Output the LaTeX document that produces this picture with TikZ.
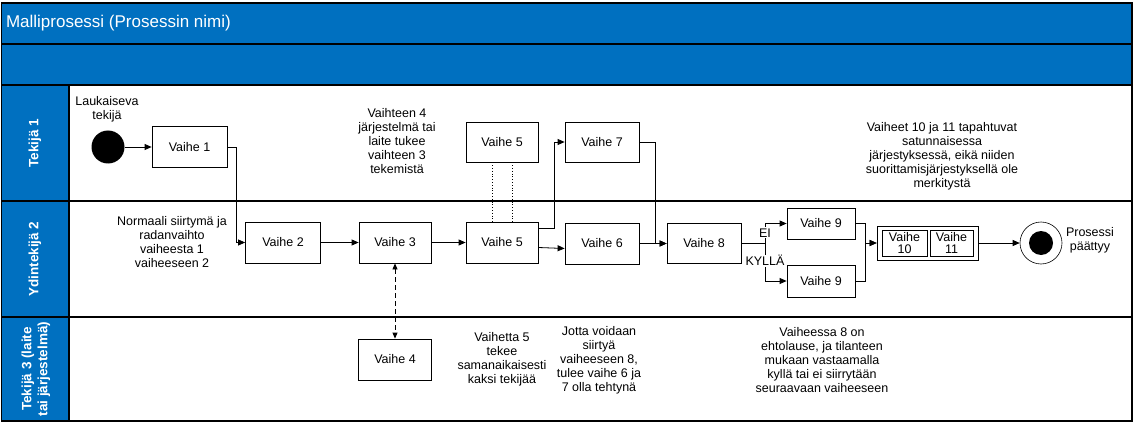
\documentclass[tikz,border=0pt]{standalone}
\usepackage{fontspec}
\setmainfont{Liberation Sans}
\usetikzlibrary{arrows.meta}
\definecolor{laneblue}{RGB}{0,112,192}

\begin{document}
\begin{tikzpicture}[x=1pt, y=-1pt,
        txt/.style={font=\fontsize{12.5}{14}\selectfont},
        vaihe/.style={txt, draw, line width=0.8pt, inner sep=0pt, minimum width=73, minimum height=41},
        small/.style={vaihe, minimum width=68, minimum height=31},
        note/.style={txt, align=center},
        lanelabel/.style={rotate=90, white, align=center, font=\bfseries\fontsize{13.5}{16}\selectfont},
        flow/.style={line width=0.8pt, -{Triangle[length=7pt, width=6pt]}},
        lab/.style={txt, fill=white, inner sep=1pt}]
    \useasboundingbox (0, 0) rectangle (1135, 425);
    %\draw[help lines, step=50] (0, 0) grid (1135, 425);
    % kaistat
    \fill[laneblue] (1.5, 3) rectangle (1132, 85);
    \fill[laneblue] (1.5, 85) rectangle (69, 421);
    \draw[line width=1.2pt] (1.5, 3) rectangle (1132, 421);
    \draw[line width=1.2pt] (1.5, 44) -- (1132, 44);
    \draw[line width=1.2pt] (1.5, 85) -- (1132, 85);
    \draw[line width=1.2pt] (1.5, 201) -- (1132, 201);
    \draw[line width=1.2pt] (1.5, 317) -- (1132, 317);
    \draw[line width=1.2pt] (69, 85) -- (69, 421);
    \node[anchor=west, white, font=\fontsize{17}{20}\selectfont] (title) at (2.5, 23) {Malliprosessi (Prosessin nimi)};
    \node[lanelabel] (lane1) at (35, 143) {Tekijä 1};
    \node[lanelabel] (lane2) at (35, 259) {Ydintekijä 2};
    \node[lanelabel] (lane3) at (36, 369) {Tekijä 3 (laite\\tai järjestelmä)};
    % vaiheet
    \node[circle, fill=black, minimum size=33, inner sep=0pt] (start) at (108, 147) {};
    \node[note] (startlab) at (107, 109) {Laukaiseva\\tekijä};
    \node[vaihe, minimum width=75] (v1) at (189.5, 147) {Vaihe 1};
    \node[vaihe, minimum width=75] (v2) at (283, 242.5) {Vaihe 2};
    \node[vaihe, minimum width=72] (v3) at (395, 242.5) {Vaihe 3};
    \node[vaihe] (v4) at (395, 359.5) {Vaihe 4};
    \node[vaihe, minimum width=72, minimum height=40] (v5a) at (502, 142) {Vaihe 5};
    \node[vaihe, minimum width=72] (v5b) at (502, 242.5) {Vaihe 5};
    \node[vaihe, minimum width=74, minimum height=40] (v7) at (602, 142) {Vaihe 7};
    \node[vaihe, minimum width=74] (v6) at (602, 243.5) {Vaihe 6};
    \node[vaihe, minimum width=74, minimum height=40] (v8) at (704, 243.5) {Vaihe 8};
    \node[small] (v9a) at (821, 223.5) {Vaihe 9};
    \node[small, minimum height=32] (v9b) at (821, 281) {Vaihe 9};
    \node[draw, line width=0.8pt, minimum width=101, minimum height=34] (group) at (927.5, 243) {};
    \node[vaihe, align=center, minimum width=45, minimum height=26, font=\fontsize{12.5}{12.5}\selectfont] (v10) at (904.5, 243) {Vaihe\\10};
    \node[vaihe, align=center, minimum width=43, minimum height=26, font=\fontsize{12.5}{12.5}\selectfont] (v11) at (951.5, 243) {Vaihe\\11};
    \node[circle, draw, line width=0.6pt, minimum size=42, inner sep=0pt] (end) at (1041, 243) {};
    \node[circle, fill=black, minimum size=24, inner sep=0pt] (endin) at (end) {};
    \node[note] (endlab) at (1090, 240) {Prosessi\\päättyy};
    % siirtymät
    \draw[flow] (start) -- (v1);
    \draw[flow] (v1.east) -- ++(9, 0) |- (v2.west);
    \draw[flow] (v2) -- (v3);
    \draw[flow] (v3) -- (v5b);
    \draw[line width=0.8pt, dash pattern=on 5pt off 3pt, {Triangle[length=6pt, width=5pt]}-{Triangle[length=6pt, width=5pt]}] (v3) -- (v4);
    \draw[dotted, line width=0.8pt] ([xshift=-10]v5a.south) -- ([xshift=-10]v5b.north);
    \draw[dotted, line width=0.8pt] ([xshift=10]v5a.south) -- ([xshift=10]v5b.north);
    \draw[flow] ([yshift=14.5]v5b.east) -- ++(16, 0) |- (v7.west);
    \draw[flow] ([yshift=-5]v5b.east) -- ([yshift=-5]v6.west);
    \draw[flow] (v6) -- (v8);
    \draw[flow] (v7.east) -- ++(15.5, 0) |- (v8.west);
    \coordinate (split) at (765, 243.5);
    \draw[line width=0.8pt] (v8) -- (split);
    \draw[flow] (split) |- (v9a) node[lab, pos=0.27] {EI};
    \draw[flow] (split) |- (v9b) node[lab, pos=0.23] {KYLLÄ};
    \draw[flow] (v9a.east) -- ++(10, 0) |- (group.west);
    \draw[flow] (v9b.east) -- ++(10, 0) |- (group.west);
    \draw[flow] (group) -- (end);
    % selitteet
    \node[note] (note1) at (397, 141) {Vaihteen 4\\järjestelmä tai\\laite tukee\\vaihteen 3\\tekemistä};
    \node[note] (note2) at (942, 156) {Vaiheet 10 ja 11 tapahtuvat\\satunnaisessa\\järjestyksessä, eikä niiden\\suorittamisjärjestyksellä ole\\merkitystä};
    \node[note] (note3) at (172, 242) {Normaali siirtymä ja\\radanvaihto\\vaiheesta 1\\vaiheeseen 2};
    \node[note] (note4) at (502, 359) {Vaihetta 5\\tekee\\samanaikaisesti\\kaksi tekijää};
    \node[note] (note5) at (599, 360) {Jotta voidaan\\siirtyä\\vaiheeseen 8,\\tulee vaihe 6 ja\\7 olla tehtynä};
    \node[note] (note6) at (822, 360) {Vaiheessa 8 on\\ehtolause, ja tilanteen\\mukaan vastaamalla\\kyllä tai ei siirrytään\\seuraavaan vaiheeseen};
\end{tikzpicture}
\end{document}
